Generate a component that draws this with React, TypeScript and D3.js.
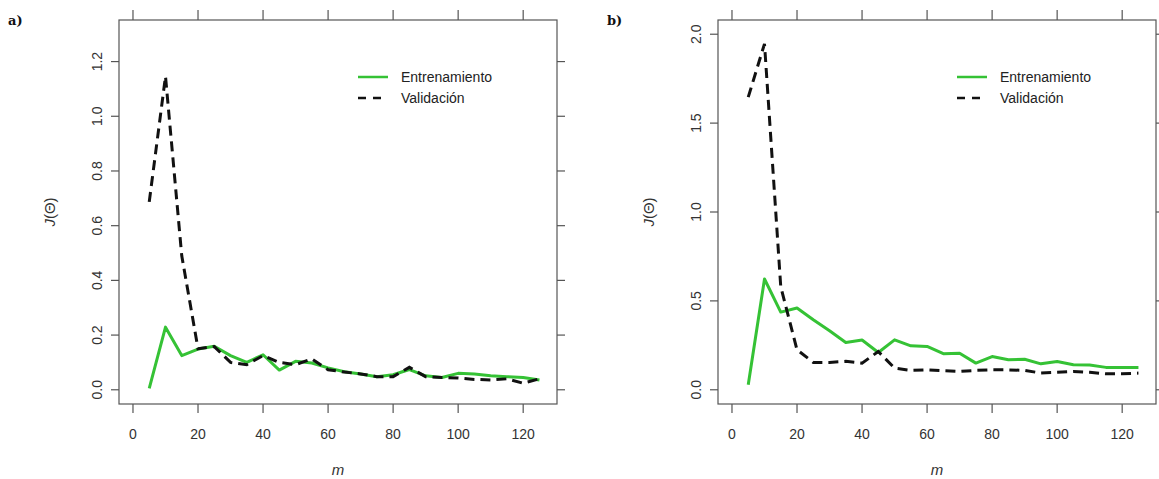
import React from "react";
import * as d3 from "d3";

// m (training set size) on the x axis
const mValues = [5, 10, 15, 20, 25, 30, 35, 40, 45, 50, 55, 60, 65, 70, 75, 80, 85, 90, 95, 100, 105, 110, 115, 120, 125];

// panel a)
const trainA = [0.005, 0.229, 0.125, 0.149, 0.159, 0.125, 0.1, 0.128, 0.072, 0.104, 0.098, 0.08, 0.066, 0.058, 0.048, 0.055, 0.074, 0.051, 0.045, 0.06, 0.058, 0.051, 0.048, 0.045, 0.036];
const validA = [0.687, 1.146, 0.49, 0.15, 0.158, 0.1, 0.092, 0.125, 0.1, 0.092, 0.113, 0.073, 0.065, 0.058, 0.048, 0.048, 0.082, 0.048, 0.045, 0.043, 0.038, 0.036, 0.04, 0.024, 0.04];

// panel b)
const trainB = [0.028, 0.623, 0.437, 0.46, 0.394, 0.332, 0.266, 0.28, 0.21, 0.281, 0.247, 0.244, 0.203, 0.206, 0.15, 0.187, 0.169, 0.172, 0.146, 0.159, 0.141, 0.139, 0.126, 0.126, 0.126];
const validB = [1.646, 1.946, 0.58, 0.225, 0.154, 0.154, 0.16, 0.15, 0.215, 0.122, 0.109, 0.112, 0.107, 0.103, 0.109, 0.112, 0.112, 0.109, 0.094, 0.098, 0.103, 0.098, 0.09, 0.09, 0.094];

const xTicks = [0, 20, 40, 60, 80, 100, 120];
const yTicksA = [0, 0.2, 0.4, 0.6, 0.8, 1.0, 1.2];
const yTicksB = [0, 0.5, 1.0, 1.5, 2.0];
const legendLabels = ["Entrenamiento", "Validación"];

const green = "#35c235";
const axisColor = "#555";
const font = "'Liberation Sans', Arial, sans-serif";

const top = 20;
const bottom = 404;
const tick = 8;

type PanelProps = {
	tag: string;
	left: number;
	right: number;
	yMax: number;
	yTicks: number[];
	train: number[];
	valid: number[];
};

const Panel = (props: PanelProps) => {
	const { tag, left, right, yMax, yTicks, train, valid } = props;

	const xScale = d3.scaleLinear().domain([-4.3, 130.4]).range([left, right]);
	// R style 4% padding around ylim = c(0, yMax)
	const pad = yMax * 0.04;
	const yScale = d3.scaleLinear().domain([-pad, yMax + pad]).range([bottom, top]);

	const line = d3
		.line<number>()
		.x((_, i) => xScale(mValues[i]))
		.y((d) => yScale(d));

	const midY = (top + bottom) / 2;
	const midX = (left + right) / 2;
	const legX = left + 239;

	return (
		<g>
			<text x={left - 111} y={25} fontFamily="'DejaVu Serif', serif" fontWeight="bold" fontSize={13} fill="#111">
				{tag}
			</text>
			<rect x={left} y={top} width={right - left} height={bottom - top} fill="none" stroke={axisColor} strokeWidth={1.2} />

			{/* bottom and top ticks */}
			{xTicks.map((t) => (
				<g key={"x" + t}>
					<line x1={xScale(t)} x2={xScale(t)} y1={bottom} y2={bottom + tick + 1} stroke={axisColor} strokeWidth={1.2} />
					<line x1={xScale(t)} x2={xScale(t)} y1={top} y2={top - tick - 2} stroke={axisColor} strokeWidth={1.2} />
					<text x={xScale(t)} y={439} textAnchor="middle" fontFamily={font} fontSize={14} fill="#333">
						{t}
					</text>
				</g>
			))}

			{/* left and right ticks */}
			{yTicks.map((t) => (
				<g key={"y" + t}>
					<line x1={left - tick} x2={left} y1={yScale(t)} y2={yScale(t)} stroke={axisColor} strokeWidth={1.2} />
					<line x1={right} x2={right + tick} y1={yScale(t)} y2={yScale(t)} stroke={axisColor} strokeWidth={1.2} />
					<text
						transform={`translate(${left - 17},${yScale(t)}) rotate(-90)`}
						textAnchor="middle"
						fontFamily={font}
						fontSize={14}
						fill="#333"
					>
						{t.toFixed(1)}
					</text>
				</g>
			))}

			<text transform={`translate(${left - 64},${midY}) rotate(-90)`} textAnchor="middle" fontFamily={font} fontSize={15} fill="#333">
				<tspan fontStyle="italic">J</tspan>(Θ)
			</text>
			<text x={midX} y={475} textAnchor="middle" fontFamily={font} fontStyle="italic" fontSize={15} fill="#333">
				m
			</text>

			<path d={line(train) ?? ""} fill="none" stroke={green} strokeWidth={3} strokeLinejoin="round" />
			<path d={line(valid) ?? ""} fill="none" stroke="#111" strokeWidth={3} strokeDasharray="10,6" />

			{/* legend */}
			<line x1={legX} x2={legX + 30} y1={77} y2={77} stroke={green} strokeWidth={2.5} />
			<line x1={legX} x2={legX + 30} y1={98} y2={98} stroke="#111" strokeWidth={2.5} strokeDasharray="8,7" />
			<text x={legX + 43} y={82} fontFamily={font} fontSize={14} fill="#222">
				{legendLabels[0]}
			</text>
			<text x={legX + 43} y={103} fontFamily={font} fontSize={14} fill="#222">
				{legendLabels[1]}
			</text>
		</g>
	);
};

const App = () => {
	return (
		<svg width={1159} height={479} style={{ position: "absolute", left: 0, top: 0, background: "#fff" }}>
			<Panel tag="a)" left={119} right={557} yMax={1.3} yTicks={yTicksA} train={trainA} valid={validA} />
			<Panel tag="b)" left={718} right={1156} yMax={2.0} yTicks={yTicksB} train={trainB} valid={validB} />
		</svg>
	);
};

export default App;
